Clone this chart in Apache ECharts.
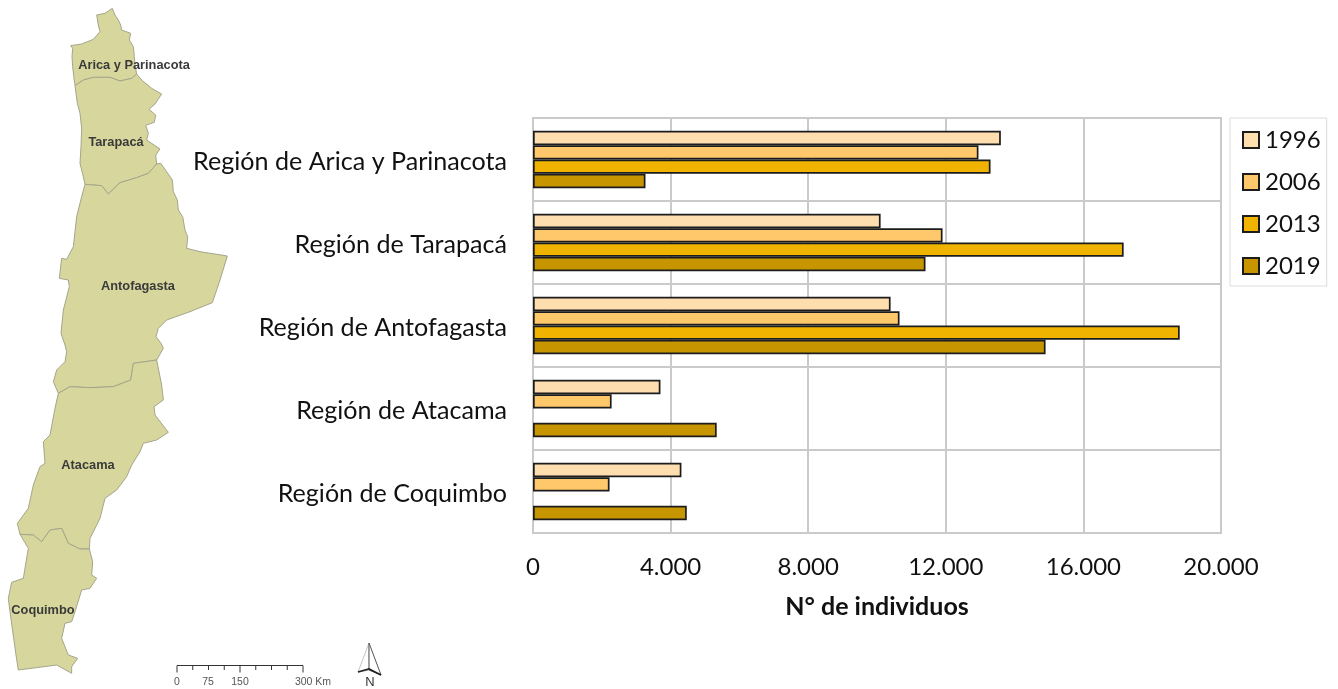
<!DOCTYPE html>
<html><head><meta charset="utf-8"><style>html,body{margin:0;padding:0;background:#fff}#c{width:1338px;height:689px}</style>
<script src="https://cdn.jsdelivr.net/npm/echarts@6/dist/echarts.min.js"></script></head>
<body><div id="c"></div><script>
const regions = ['Región de Arica y Parinacota','Región de Tarapacá','Región de Antofagasta','Región de Atacama','Región de Coquimbo'];
const years = ['1996','2006','2013','2019'];
const v1996 = [13600,10105,10395,3705,4315];
const v2006 = [12950,11905,10655,2285,2225];
const v2013 = [13300,17170,18800,null,null];
const v2019 = [3270,11410,14900,5340,4470];
const colors = ['#FEDDAE','#FFC96B','#F0B400','#C69500'];
const xTicks = [0,4000,8000,12000,16000,20000];

// Map outlines
const up = a => a.map(p => [p[0]/3, p[1]/3]);
const low = a => a.map(p => [p[0]/3, 345 + p[1]/3]);
const borderAT = up([[225,257],[250,240],[280,232],[330,232],[360,243],[395,235],[410,222]]);
const borderTAn = up([[470,492],[445,520],[410,533],[360,548],[325,582],[305,557],[255,553]]);
const borderAnAt = low([[470,45],[400,55],[392,105],[340,125],[270,128],[210,125],[175,145]]);
const borderAtC = low([[268,612],[240,612],[205,595],[185,550],[150,555],[125,590],[100,570],[60,568]]);
const arica = up([[337,25],[345,45],[355,60],[362,75],[365,90],[392,100],[388,120],[400,140],[403,170],[405,195]]).concat(borderAT.slice().reverse(), up([[222,235],[218,200],[216,170],[218,145],[212,137],[245,132],[280,118],[300,95],[295,75],[290,45],[315,40]]));
const tarapaca = borderAT.concat(up([[425,240],[455,265],[485,282],[465,312],[447,328],[467,345],[463,367],[437,376],[445,400],[440,420],[480,447],[467,465]]), borderTAn, up([[250,530],[240,490],[243,440],[245,385],[240,340],[232,310],[228,280]]));
const antofagasta = borderTAn.slice().reverse().concat(up([[482,490],[500,515],[517,540],[520,575],[532,600],[535,630],[548,650],[555,690],[563,710],[560,745],[600,755],[682,768],[660,840],[637,908],[570,935],[500,960],[475,985],[468,1010],[483,1030]]), low([[490,10]]), borderAnAt, low([[160,110],[170,75],[195,50],[200,20],[195,0]]), up([[183,1000],[190,930],[208,860],[205,840],[178,835],[185,775],[200,778],[220,740],[230,650],[245,590]]));
const atacama = borderAnAt.slice().reverse().concat(low([[485,120],[490,165],[462,185],[465,210],[505,262],[470,285],[430,295],[420,320],[395,360],[380,395],[350,435],[315,460],[300,520],[270,580]]), borderAtC, low([[52,535],[85,490],[100,420],[120,365],[135,355],[130,290],[150,270],[165,190]]));
const coquimbo = borderAtC.slice().reverse().concat(low([[278,650],[275,690],[290,700],[270,730],[245,735],[225,800],[215,830],[195,835],[185,880],[205,930],[233,940],[215,965],[215,985],[170,960],[55,975],[48,930],[30,800],[25,760],[35,712],[70,700],[85,610]]));
const mapRegions = [
  ['Arica y Parinacota', arica, [134,65]],
  ['Tarapacá', tarapaca, [116,142]],
  ['Antofagasta', antofagasta, [138,286]],
  ['Atacama', atacama, [88,465]],
  ['Coquimbo', coquimbo, [43,610]]
];
const flip = ring => { const r = ring.map(p => [p[0], -p[1]]); r.push(r[0]); return r; };
const geoJson = {type:'FeatureCollection', features: mapRegions.map(m => ({
  type:'Feature',
  properties:{name:m[0], cp:[m[2][0], -m[2][1]]},
  geometry:{type:'Polygon', coordinates:[flip(m[1])]}
}))};
echarts.registerMap('chileNorte', geoJson);
const allPts = mapRegions.flatMap(m => m[1]);
const minX = Math.min(...allPts.map(p=>p[0])), maxX = Math.max(...allPts.map(p=>p[0]));
const minY = Math.min(...allPts.map(p=>p[1])), maxY = Math.max(...allPts.map(p=>p[1]));

const FONT = 'Lato';
const GRID = '#cacaca';
const chart = echarts.init(document.getElementById('c'));
const mkSeries = (name, data, i) => ({
  name, type:'bar', data, barGap:0, barCategoryGap:'31%',
  itemStyle:{color:colors[i], borderColor:'#1c1c1c', borderWidth:1.7}, silent:true
});
const scaleX = 177, scaleTop = 665.5, scaleStep = 126/8;
const ticks = [];
for (let i = 0; i <= 8; i++) {
  const major = i%4===0;
  ticks.push({type:'line', shape:{x1:scaleX+i*scaleStep,y1:scaleTop,x2:scaleX+i*scaleStep,y2:scaleTop+(major?7:4.5)}, style:{stroke:'#333',lineWidth:1}});
}
const scaleLabel = (t,x) => ({type:'text', x, y:682, style:{text:t, font:'10.5px "Liberation Sans"', fill:'#555', align:'center', verticalAlign:'middle'}});
chart.setOption({
  animation:false,
  backgroundColor:'#fff',
  geo:{map:'chileNorte', left:minX, top:minY, width:maxX-minX, height:maxY-minY, aspectScale:1, roam:false, silent:true,
    itemStyle:{areaColor:'#D7D79D', borderColor:'#a5a58c', borderWidth:1},
    label:{show:true, fontFamily:'Liberation Sans', fontWeight:'bold', fontSize:12.8, color:'#3a3a3a'},
    emphasis:{disabled:true}},
  grid:{left:533, top:118, width:688, height:415, show:true, borderColor:GRID, borderWidth:2, backgroundColor:'#fff', containLabel:false},
  legend:{orient:'vertical', left:1230, top:118, padding:[8,6,6,12], itemGap:14, itemWidth:16, itemHeight:16, icon:'rect',
    data:years, backgroundColor:'#fff', borderColor:'#dcdcdc', borderWidth:1,
    textStyle:{fontFamily:FONT, fontSize:24, lineHeight:28, color:'#111', padding:[0,0,0,1]}, selectedMode:false},
  xAxis:{type:'value', min:xTicks[0], max:xTicks[xTicks.length-1], interval:4000,
    name:'N° de individuos', nameLocation:'middle', nameGap:61,
    nameTextStyle:{fontFamily:FONT, fontSize:25, fontWeight:'bold', color:'#111'},
    axisLine:{show:true,lineStyle:{color:GRID,width:2}}, axisTick:{show:false},
    axisLabel:{fontFamily:FONT, fontSize:24, color:'#111', margin:22, formatter:v => String(v).replace(/\B(?=(\d{3})+$)/g,'.')},
    splitLine:{show:true,lineStyle:{color:GRID,width:2}}},
  yAxis:{type:'category', data:regions, inverse:true,
    axisLine:{show:true,lineStyle:{color:GRID,width:2}}, axisTick:{show:false},
    axisLabel:{margin:26, formatter:v => '{r|' + v + '}',
      rich:{r:{fontFamily:FONT, fontSize:25.1, color:'#111', height:30, padding:[4,0,0,0]}}},
    splitLine:{show:true,lineStyle:{color:GRID,width:2}}},
  series:[mkSeries(years[0],v1996,0),mkSeries(years[1],v2006,1),mkSeries(years[2],v2013,2),mkSeries(years[3],v2019,3)],
  graphic:[
    {type:'line', shape:{x1:scaleX,y1:scaleTop,x2:scaleX+126,y2:scaleTop}, style:{stroke:'#333',lineWidth:1.2}},
    ...ticks,
    scaleLabel('0',177), scaleLabel('75',208), scaleLabel('150',240), scaleLabel('300 Km',313),
    {type:'polygon', shape:{points:[[369,643],[358,672],[369,670]]}, style:{fill:'#fff',stroke:'#c4c4c4',lineWidth:1}},
    {type:'polygon', shape:{points:[[369,643],[381,675],[369,670]]}, style:{fill:'#fff',stroke:'#555',lineWidth:1}},
    {type:'polyline', shape:{points:[[358,672],[369,669],[381,675]]}, style:{stroke:'#222',lineWidth:1.8,fill:null}},
    {type:'text', x:370, y:682, style:{text:'N', font:'13px "Liberation Sans"', fill:'#333', align:'center', verticalAlign:'middle'}}
  ]
});
</script></body></html>
